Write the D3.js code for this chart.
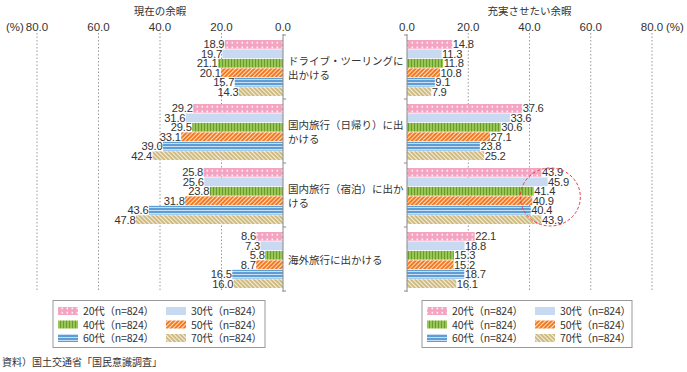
<!DOCTYPE html>
<html>
<head>
<meta charset="utf-8">
<script src="https://cdn.jsdelivr.net/npm/d3@7"></script>
<style>
  body { margin: 0; background: #fff; }
  text { fill: #333; }
  .jp { font-family: "Noto Sans CJK JP", sans-serif; }
  .num { font-family: "Liberation Sans Narrow", "Arial Narrow", "Liberation Sans", sans-serif; }
</style>
</head>
<body>
<svg id="chart"></svg>
<script>
var categories = ['drive', 'daytrip', 'overnight', 'overseas'];
var categoryLines = [
    ['ドライブ・ツーリングに', '出かける'],
    ['国内旅行（日帰り）に出', 'かける'],
    ['国内旅行（宿泊）に出か', 'ける'],
    ['海外旅行に出かける']
];
var ages = ['20代', '30代', '40代', '50代', '60代', '70代'];
var sampleN = [824, 824, 824, 824, 824, 824];

// 現在の余暇
var current = [
    [18.9, 19.7, 21.1, 20.1, 15.7, 14.3],
    [29.2, 31.6, 29.5, 33.1, 39.0, 42.4],
    [25.8, 25.6, 23.8, 31.8, 43.6, 47.8],
    [8.6, 7.3, 5.8, 8.7, 16.5, 16.0]
];
// 充実させたい余暇
var wanted = [
    [14.8, 11.3, 11.8, 10.8, 9.1, 7.9],
    [37.6, 33.6, 30.6, 27.1, 23.8, 25.2],
    [43.9, 45.9, 41.4, 40.9, 40.4, 43.9],
    [22.1, 18.8, 15.3, 15.2, 18.7, 16.1]
];
var ticks = [0, 20, 40, 60, 80];

var width = 687, height = 372;
var svg = d3.select('#chart').attr('width', width).attr('height', height);
var defs = svg.append('defs');

// patterns
function pat(id, w, h, bg) {
    var p = defs.append('pattern').attr('id', id).attr('patternUnits', 'userSpaceOnUse')
        .attr('width', w).attr('height', h);
    p.append('rect').attr('width', w).attr('height', h).attr('fill', bg);
    return p;
}
var p = pat('p0', 5, 4.5, '#f4a3c1');
p.append('rect').attr('x', 1.5).attr('y', 1.5).attr('width', 1.6).attr('height', 1.6).attr('fill', '#fff');
pat('p1', 4, 4, '#c7daf1');
p = pat('p2', 3, 4, '#97c653');
p.append('rect').attr('x', 0).attr('width', 1).attr('height', 4).attr('fill', '#6b9b2e');
p = pat('p3', 3, 3, '#f47a22').attr('patternTransform', 'rotate(45)');
p.append('rect').attr('width', 1).attr('height', 3).attr('fill', '#fde0c8');
p = pat('p4', 4, 3, '#5e9ed6');
p.append('rect').attr('y', 1).attr('width', 4).attr('height', 0.9).attr('fill', '#d5e6f5');
p = pat('p5', 3, 3, '#cdb87c').attr('patternTransform', 'rotate(-45)');
p.append('rect').attr('width', 1.1).attr('height', 3).attr('fill', '#f5efdc');

var fills = ages.map(function(d, i) { return 'url(#p' + i + ')'; });

var y0 = d3.scaleBand().domain(categories).range([36, 292]);
var y1 = d3.scaleBand().domain(d3.range(ages.length)).range([4, 60]).paddingInner(0.08);

var xl = d3.scaleLinear().domain([0, 80]).range([283, 37]);
var xr = d3.scaleLinear().domain([0, 80]).range([407, 652]);

function panel(x, data, side, title) {
    var g = svg.append('g');
    var zero = x(0);
    // grid
    g.selectAll('.grid').data(ticks.slice(1)).enter().append('line')
        .attr('x1', x).attr('x2', x).attr('y1', 33).attr('y2', 292)
        .attr('stroke', '#999').attr('stroke-dasharray', '1.5,2');
    // tick labels
    g.selectAll('.tl').data(ticks).enter().append('text')
        .attr('class', 'num').attr('x', x).attr('y', 31)
        .attr('text-anchor', 'middle').attr('font-size', 11.5)
        .text(function(d) { return d.toFixed(1); });
    // title
    g.append('text').attr('class', 'jp').attr('x', x(40)).attr('y', 15)
        .attr('text-anchor', 'middle').attr('font-size', 10.5).text(title);
    // bars
    categories.forEach(function(c, ci) {
        var gg = g.append('g').attr('transform', 'translate(0,' + y0(c) + ')');
        gg.selectAll('rect').data(data[ci]).enter().append('rect')
            .attr('x', function(d) { return side < 0 ? x(d) : zero; })
            .attr('width', function(d) { return Math.abs(x(d) - zero); })
            .attr('y', function(d, i) { return y1(i); })
            .attr('height', y1.bandwidth())
            .attr('fill', function(d, i) { return fills[i]; });
        gg.selectAll('text').data(data[ci]).enter().append('text')
            .attr('class', 'num')
            .attr('x', function(d) { return x(d) + side * 0.5; })
            .attr('y', function(d, i) { return y1(i) + y1.bandwidth() / 2 + 4; })
            .attr('text-anchor', side < 0 ? 'end' : 'start')
            .attr('font-size', 11.2).attr('letter-spacing', -0.2)
            .text(function(d) { return d.toFixed(1); });
    });
    // axis at zero
    g.append('line').attr('x1', zero).attr('x2', zero).attr('y1', 34).attr('y2', 292)
        .attr('stroke', '#888');
    var bounds = y0.domain().map(function(c) { return y0(c); }).concat([292]);
    g.selectAll('.tk').data(bounds).enter().append('line')
        .attr('x1', zero).attr('x2', zero - side * 3)
        .attr('y1', function(d) { return d - 1; }).attr('y2', function(d) { return d - 1; })
        .attr('stroke', '#888');
}

panel(xl, current, -1, '現在の余暇');
panel(xr, wanted, 1, '充実させたい余暇');

svg.append('text').attr('class', 'num').attr('x', 6).attr('y', 31).attr('font-size', 11.5).text('(%)');
svg.append('text').attr('class', 'num').attr('x', 666).attr('y', 31).attr('font-size', 11.5).text('(%)');

// category labels
categories.forEach(function(c, ci) {
    var lines = categoryLines[ci];
    var cy = y0(c) + y0.bandwidth() / 2 - (lines.length - 1) * 7;
    svg.append('g').selectAll('text').data(lines).enter().append('text')
        .attr('class', 'jp').attr('x', 288)
        .attr('y', function(d, i) { return cy + i * 14 + 4; })
        .attr('font-size', 10.5).text(function(d) { return d; });
});

// highlight ellipse
svg.append('ellipse')
    .attr('cx', xr(46.8)).attr('cy', y0('overnight') + 33)
    .attr('rx', 30).attr('ry', 29)
    .attr('fill', 'none').attr('stroke', '#e8383d').attr('stroke-dasharray', '3,2');

// legends
function legend(x0, x1col) {
    var g = svg.append('g');
    g.append('rect').attr('x', x0).attr('y', 300.5).attr('width', x1col).attr('height', 47)
        .attr('fill', '#fff').attr('stroke', '#999');
    ages.forEach(function(a, i) {
        var col = i % 2, row = Math.floor(i / 2);
        var lx = x0 + 5 + col * 108, ly = 311 + row * 13.5;
        g.append('rect').attr('x', lx).attr('y', ly - 4).attr('width', 20).attr('height', 8)
            .attr('fill', fills[i]);
        g.append('text').attr('class', 'jp').attr('x', lx + 25).attr('y', ly + 4)
            .attr('font-size', 10.5).attr('letter-spacing', -0.2)
            .text(a + '（n=' + sampleN[i] + '）');
    });
}
legend(53, 212);
legend(422, 210);

svg.append('text').attr('class', 'jp').attr('x', 2).attr('y', 366).attr('font-size', 10)
    .text('資料）国土交通省「国民意識調査」');
</script>
</body>
</html>
